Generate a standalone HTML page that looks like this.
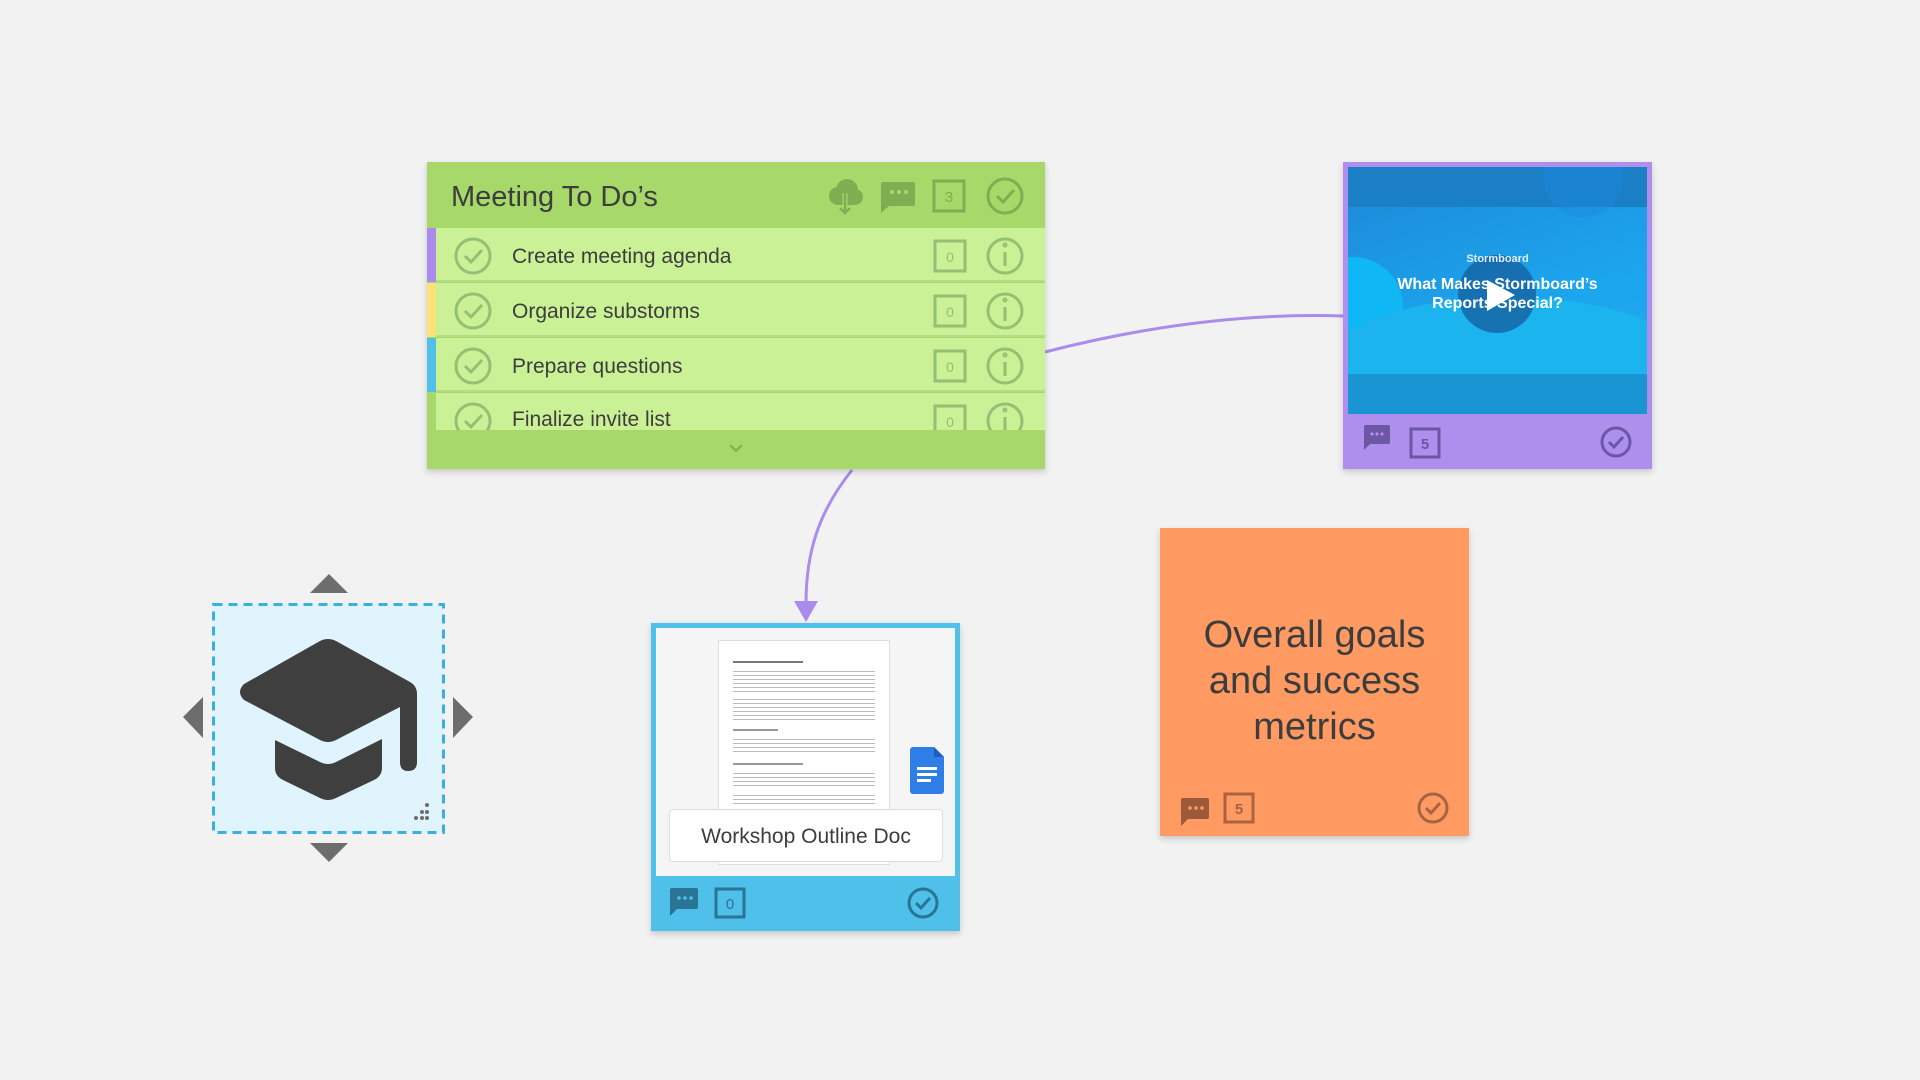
<!DOCTYPE html>
<html><head><meta charset="utf-8"><style>
*{margin:0;padding:0;box-sizing:border-box}
body{width:1920px;height:1080px;background:#f2f2f2;position:relative;overflow:hidden;font-family:"Liberation Sans",sans-serif;color:#3d3d3d}
.a{position:absolute}
.row{position:absolute;left:0;width:618px;height:54px;background:#cbf197;border-bottom:2px solid #b6dd86}
.row .t{position:absolute;left:85px;top:17px;font-size:21px}
.sh{box-shadow:0 3px 6px rgba(0,0,0,.18)}
.ln{background:repeating-linear-gradient(#bbb 0 1px,#fff 1px 4px)}
</style></head><body>
<svg class="a" style="left:0;top:0" width="1920" height="1080">
<path d="M1045 352 C1150 325 1250 313 1343 316" stroke="#a98cec" stroke-width="3" fill="none"/>
<path d="M852 470 C820 510 806 550 806 603" stroke="#a98cec" stroke-width="3" fill="none"/>
<polygon points="794,601 818,601 806,622" fill="#a98cec"/>
</svg>

<!-- Top card -->
<div class="a sh" style="left:427px;top:162px;width:618px;height:307px;background:#a6d96a">
 <div class="a" style="left:24px;top:19px;font-size:29px">Meeting To Do’s</div>
 <svg class="a" style="left:395px;top:14px" width="220" height="40">
  <g fill="#7fae52"><circle cx="16" cy="20" r="9"/><circle cx="25" cy="14" r="11"/><circle cx="33" cy="21" r="8"/><rect x="12" y="18" width="24" height="11" rx="5"/></g>
  <path d="M23 17 V37 M18 32 L23 37 L28 32" stroke="#a6d96a" stroke-width="5" fill="none"/>
  <path d="M23 17 V37 M18 32 L23 37 L28 32" stroke="#7fae52" stroke-width="2.5" fill="none"/>
  <path d="M61 6 h30 a2 2 0 0 1 2 2 v20 a2 2 0 0 1 -2 2 h-24 l-8 7 v-29 a2 2 0 0 1 2 -2z" fill="#7fae52"/>
  <g fill="#a6d96a"><circle cx="70" cy="16" r="2"/><circle cx="77" cy="16" r="2"/><circle cx="84" cy="16" r="2"/></g>
  <rect x="112" y="5" width="30" height="30" fill="none" stroke="#7fae52" stroke-width="3"/>
  <text x="127" y="26" font-size="15" text-anchor="middle" fill="#7fae52" font-family="Liberation Sans">3</text>
  <circle cx="183" cy="20" r="17" fill="none" stroke="#7fae52" stroke-width="3"/>
  <path d="M175 20 l6 6 l11 -12" stroke="#7fae52" stroke-width="3" fill="none"/>
 </svg>
 <div class="row" style="top:66px"><div class="a" style="left:0;top:0;width:9px;height:54px;background:#ab8ced"></div><div class="t">Create meeting agenda</div></div>
 <div class="row" style="top:121px"><div class="a" style="left:0;top:0;width:9px;height:54px;background:#fce07a"></div><div class="t">Organize substorms</div></div>
 <div class="row" style="top:176px"><div class="a" style="left:0;top:0;width:9px;height:54px;background:#4ec0ea"></div><div class="t">Prepare questions</div></div>
 <div class="row" style="top:231px;height:37px;border:none"><div class="a" style="left:0;top:0;width:9px;height:37px;background:#a6d96a"></div><div class="t" style="top:15px">Finalize invite list</div></div>
 <svg class="a" style="left:0;top:66px" width="618" height="202">
  <defs><g id="rw" fill="none" stroke="#95bf72" stroke-width="3">
   <circle cx="46" cy="28" r="17"/><path d="M38 28 l6 6 l11 -12"/>
   <rect x="508" y="13" width="30" height="30"/>
   <circle cx="578" cy="28" r="17"/><path d="M578 24 v14"/><circle cx="578" cy="17" r="1" />
  </g></defs>
  <use href="#rw"/><use href="#rw" y="55"/><use href="#rw" y="110"/><use href="#rw" y="165"/>
  <g font-size="14" fill="#95bf72" text-anchor="middle" font-family="Liberation Sans">
   <text x="523" y="34">0</text><text x="523" y="89">0</text><text x="523" y="144">0</text><text x="523" y="199">0</text></g>
 </svg>
 <div class="a" style="left:0;top:268px;width:618px;height:39px;background:#a6d96a"></div>
 <svg class="a" style="left:301px;top:280px" width="16" height="12"><path d="M2 3 l6 6 l6 -6" stroke="#7fae52" stroke-width="2" fill="none"/></svg>
</div>

<!-- Video card -->
<div class="a sh" style="left:1343px;top:162px;width:309px;height:307px;background:#ae8fee">
 <div class="a" style="left:5px;top:5px;width:299px;height:247px;overflow:hidden;background:linear-gradient(160deg,#1e88d6,#1ba6ee 60%,#28a8f2)">
  <div class="a" style="left:0;top:0;width:299px;height:40px;background:#1a7fc4"></div>
  <div class="a" style="left:-45px;top:90px;width:100px;height:100px;border-radius:50%;background:#0fb8f5"></div>
  <div class="a" style="left:195px;top:-30px;width:80px;height:80px;border-radius:50%;background:#1c8ae0;opacity:.5"></div>
  <div class="a" style="left:-30px;top:130px;width:380px;height:150px;border-radius:50%;background:#1bb4ef"></div>
  <div class="a" style="left:0;top:207px;width:299px;height:40px;background:#1a95d4"></div>
  <div class="a" style="left:110px;top:88px;width:78px;height:78px;border-radius:50%;background:#1566a6;opacity:.85"></div>
  <div class="a" style="left:0;top:86px;width:299px;text-align:center;color:#dfeefa;font-size:11px;font-weight:bold">Stormboard</div>
  <div class="a" style="left:0;top:108px;width:299px;text-align:center;color:#fff;font-size:16px;font-weight:bold;line-height:19px">What Makes Stormboard’s<br>Reports Special?</div>
  <svg class="a" style="left:135px;top:111px" width="35" height="35"><polygon points="4,2 32,17 4,33" fill="#fff"/></svg>
 </div>
 <svg class="a" style="left:0;top:252px" width="309" height="55">
  <path d="M23 11 h22 a2 2 0 0 1 2 2 v15 a2 2 0 0 1 -2 2 h-18 l-6 6 v-23 a2 2 0 0 1 2 -2z" fill="#6b57a3"/>
  <g fill="#ae8fee"><circle cx="29" cy="20" r="1.6"/><circle cx="34" cy="20" r="1.6"/><circle cx="39" cy="20" r="1.6"/></g>
  <rect x="68" y="15" width="28" height="28" fill="none" stroke="#6b57a3" stroke-width="3"/>
  <text x="82" y="35" font-size="15" font-weight="bold" text-anchor="middle" fill="#6b57a3" font-family="Liberation Sans">5</text>
  <circle cx="273" cy="28" r="14" fill="none" stroke="#6b57a3" stroke-width="3"/>
  <path d="M266 28 l5 5 l9 -10" stroke="#6b57a3" stroke-width="3" fill="none"/>
 </svg>
</div>

<!-- Doc card -->
<div class="a sh" style="left:651px;top:623px;width:309px;height:308px;background:#4ec0ea">
 <div class="a" style="left:5px;top:5px;width:299px;height:248px;background:#f5f5f5">
  <div class="a" style="left:62px;top:12px;width:172px;height:225px;background:#fff;border:1px solid #ddd;padding:20px 14px">
   <div style="height:2px;background:#777;width:70px;margin-bottom:8px"></div>
   <div class="ln" style="height:22px;margin-bottom:6px"></div>
   <div class="ln" style="height:22px;margin-bottom:8px"></div>
   <div style="height:2px;background:#999;width:45px;margin-bottom:8px"></div>
   <div class="ln" style="height:14px;margin-bottom:10px"></div>
   <div style="height:2px;background:#999;width:70px;margin-bottom:8px"></div>
   <div class="ln" style="height:14px;margin-bottom:8px"></div>
   <div class="ln" style="height:10px"></div>
  </div>
  <svg class="a" style="left:254px;top:119px" width="35" height="47"><path d="M3 0 h21 l10 10 v34 a3 3 0 0 1 -3 3 h-28 a3 3 0 0 1 -3 -3 v-41 a3 3 0 0 1 3 -3z" fill="#2f7ee8"/><path d="M24 0 v10 h10z" fill="#1b5fc4"/><g fill="#fff"><rect x="7" y="20" width="20" height="3"/><rect x="7" y="26" width="20" height="3"/><rect x="7" y="32" width="14" height="3"/></g></svg>
  <div class="a" style="left:13px;top:181px;width:274px;height:53px;background:#fff;border:1px solid #ddd;border-radius:4px;text-align:center;line-height:53px;font-size:21px">Workshop Outline Doc</div>
 </div>
 <svg class="a" style="left:0;top:252px" width="309" height="56">
  <path d="M21 13 h24 a2 2 0 0 1 2 2 v17 a2 2 0 0 1 -2 2 h-19 l-7 7 v-26 a2 2 0 0 1 2 -2z" fill="#2a7495"/>
  <g fill="#4ec0ea"><circle cx="28" cy="23" r="1.8"/><circle cx="34" cy="23" r="1.8"/><circle cx="40" cy="23" r="1.8"/></g>
  <rect x="65" y="14" width="28" height="28" fill="none" stroke="#2a7495" stroke-width="3"/>
  <text x="79" y="34" font-size="15" text-anchor="middle" fill="#2a7495" font-family="Liberation Sans">0</text>
  <circle cx="272" cy="28" r="14" fill="none" stroke="#2a7495" stroke-width="3"/>
  <path d="M265 28 l5 5 l9 -10" stroke="#2a7495" stroke-width="3" fill="none"/>
 </svg>
</div>

<!-- Orange note -->
<div class="a sh" style="left:1160px;top:528px;width:309px;height:308px;background:#ff9a63">
 <div class="a" style="left:0;top:84px;width:309px;text-align:center;font-size:38px;line-height:46px">Overall goals<br>and success<br>metrics</div>
 <svg class="a" style="left:0;top:252px" width="309" height="56">
  <path d="M23 18 h24 a2 2 0 0 1 2 2 v17 a2 2 0 0 1 -2 2 h-19 l-7 7 v-26 a2 2 0 0 1 2 -2z" fill="#9c5a3a"/>
  <g fill="#ff9a63"><circle cx="30" cy="28" r="1.8"/><circle cx="36" cy="28" r="1.8"/><circle cx="42" cy="28" r="1.8"/></g>
  <rect x="65" y="14" width="28" height="28" fill="none" stroke="#a8643f" stroke-width="3"/>
  <text x="79" y="34" font-size="15" font-weight="bold" text-anchor="middle" fill="#a8643f" font-family="Liberation Sans">5</text>
  <circle cx="273" cy="28" r="14" fill="none" stroke="#a8643f" stroke-width="3"/>
  <path d="M266 28 l5 5 l9 -10" stroke="#a8643f" stroke-width="3" fill="none"/>
 </svg>
</div>

<!-- Cap icon -->
<svg class="a" style="left:0;top:0" width="520" height="900">
 <polygon points="310,593 348,593 329,574" fill="#6d6d6d"/>
 <polygon points="310,843 348,843 329,862" fill="#6d6d6d"/>
 <polygon points="203,697 203,738 183,717" fill="#6d6d6d"/>
 <polygon points="453,697 453,738 473,717" fill="#6d6d6d"/>
 <rect x="213.5" y="604.5" width="230" height="228" fill="#dff4fc" stroke="#3bb0e0" stroke-width="3" stroke-dasharray="9,6"/>
 <path d="M320 641 Q328 637 336 641 L410 682 Q417 686 417 694 L417 762 Q417 771 408 771 Q400 771 400 762 L400 707 L336 740 Q328 744 320 740 L244 700 Q236 692 244 684 Z" fill="#3f3f3f"/>
 <path d="M275 740 L320 762 Q328 766 336 762 L382 739 L382 768 Q382 776 374 780 L336 798 Q328 802 320 798 L283 780 Q275 776 275 768 Z" fill="#3f3f3f"/>
 <g fill="#6d6d6d"><circle cx="427" cy="805" r="2"/><circle cx="422" cy="812" r="2"/><circle cx="427" cy="812" r="2"/><circle cx="416" cy="818" r="2"/><circle cx="422" cy="818" r="2"/><circle cx="427" cy="818" r="2"/></g>
</svg>
</body></html>
